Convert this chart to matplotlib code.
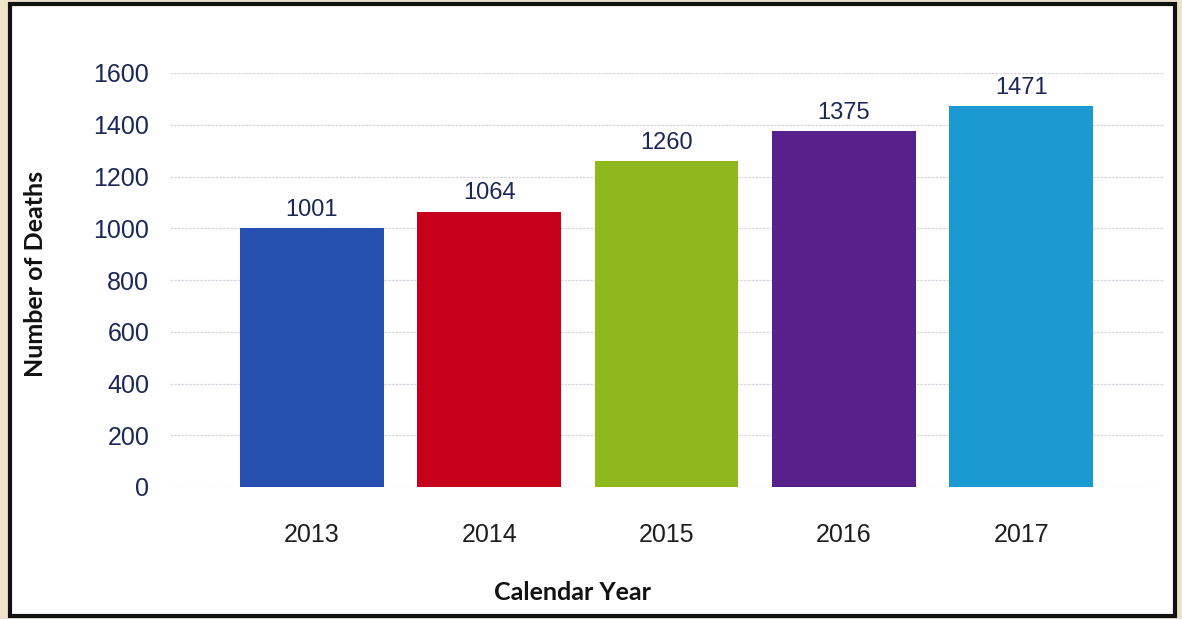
import matplotlib
matplotlib.use('Agg')
import matplotlib.pyplot as plt
from matplotlib.patches import Rectangle

years = ['2013', '2014', '2015', '2016', '2017']
deaths = [1001, 1064, 1260, 1375, 1471]
colors = ['#2550b0', '#c6001a', '#8fb81e', '#57208a', '#1b9ad2']
yticks = [0, 200, 400, 600, 800, 1000, 1200, 1400, 1600]

navy = '#1b2757'

fig = plt.figure(figsize=(11.82, 6.19), dpi=100)
fig.patch.set_facecolor('#eee2cb')

# white panel with black frame, like the scanned page
W, H = 1182, 619
fig.patches.append(Rectangle((10 / W, 3 / H), 1165 / W, 612 / H, transform=fig.transFigure,
                             facecolor='white', edgecolor='#111111', linewidth=3, zorder=-1))

ax = fig.add_axes([170 / W, 1 - 487 / H, (1163 - 170) / W, (487 - 73) / H])
ax.set_facecolor('none')

x = list(range(len(years)))
ax.bar(x, deaths, width=0.81, color=colors, zorder=2)

for i, v in enumerate(deaths):
    ax.text(i, v + 28, str(v), ha='center', va='bottom', fontsize=17,
            color=navy, family='Liberation Sans')

ax.set_xlim(-0.8, 4.8)
ax.set_ylim(0, 1600)
ax.set_yticks(yticks)
ax.set_yticklabels([str(t) for t in yticks], fontsize=18, color=navy, family='Liberation Sans')
ax.set_xticks(x)
ax.set_xticklabels(years, fontsize=18, color='#1e1e1e', family='Liberation Sans')
ax.tick_params(axis='y', length=0, pad=15)
ax.tick_params(axis='x', length=0, pad=26)

ax.grid(axis='y', color='#d3d6de', linewidth=0.9, linestyle=(0, (2, 1)), zorder=0)
for s in ax.spines.values():
    s.set_visible(False)

fig.text(573 / W, 1 - 592 / H, 'Calendar Year', fontsize=18, fontweight='bold',
         family='Lato', color='#111111', ha='center', va='center')
fig.text(36 / W, 1 - 274 / H, 'Number of Deaths', fontsize=18, fontweight='bold',
         family='Lato', color='#111111', ha='center', va='center', rotation=90)

fig.savefig('out.png', dpi=100, facecolor=fig.get_facecolor())
